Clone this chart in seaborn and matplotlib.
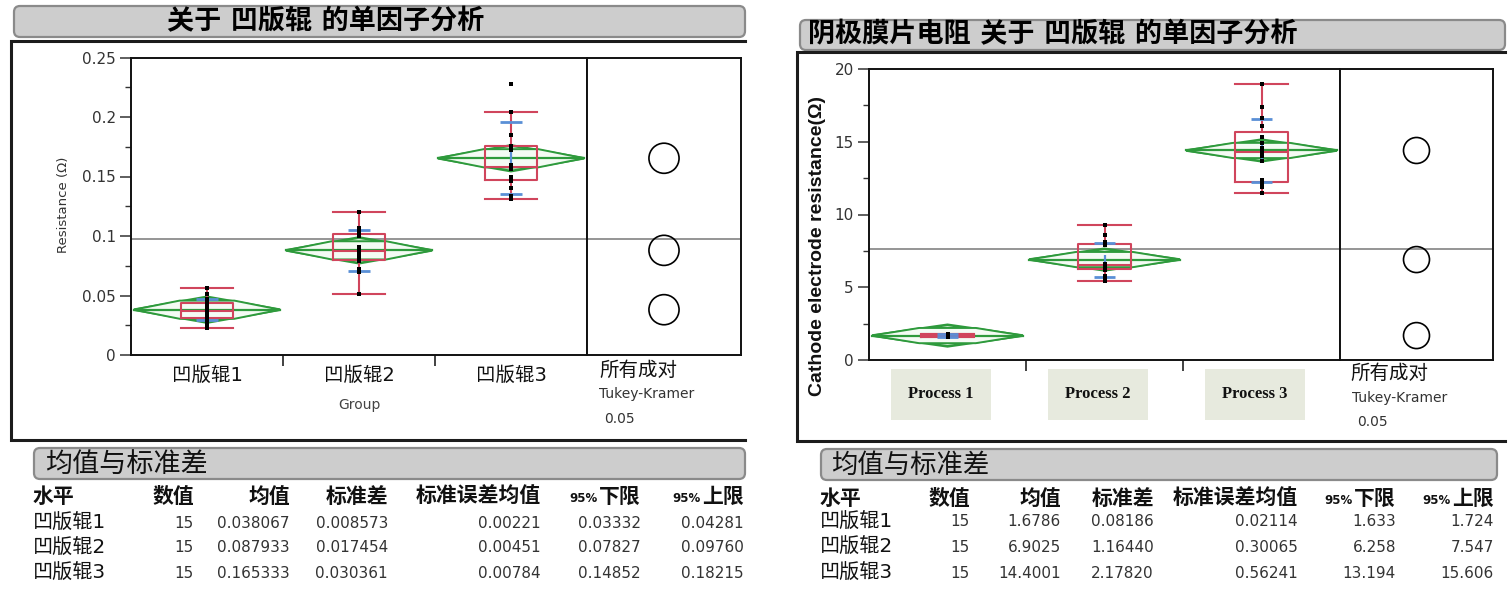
import numpy as np
import pandas as pd
import matplotlib
matplotlib.use("Agg")
import matplotlib.pyplot as plt
import matplotlib.transforms as mtransforms
from matplotlib.patches import FancyBboxPatch, Polygon
from matplotlib.ticker import FixedLocator, FuncFormatter
import seaborn as sns

# ---------------- data ----------------
groups = ["凹版辊1", "凹版辊2", "凹版辊3"]
process_labels = ["Process 1", "Process 2", "Process 3"]

# left panel: individual readings, Resistance (Ω)
left_g1 = [0.023, 0.026, 0.029, 0.031, 0.032, 0.034, 0.036, 0.037, 0.039, 0.041, 0.043, 0.045, 0.047, 0.051, 0.056]
left_g2 = [0.051, 0.070, 0.072, 0.079, 0.081, 0.083, 0.085, 0.087, 0.088, 0.091, 0.100, 0.103, 0.104, 0.107, 0.120]
left_g3 = [0.131, 0.134, 0.140, 0.146, 0.148, 0.150, 0.156, 0.158, 0.160, 0.172, 0.175, 0.176, 0.185, 0.204, 0.228]

# right panel: individual readings, cathode electrode resistance (Ω)
right_g1 = [1.55, 1.57, 1.59, 1.60, 1.61, 1.65, 1.67, 1.68, 1.69, 1.72, 1.75, 1.76, 1.77, 1.79, 1.82]
right_g2 = [5.45, 5.60, 5.80, 6.20, 6.30, 6.35, 6.40, 6.50, 6.55, 6.60, 7.90, 8.00, 8.10, 8.60, 9.25]
right_g3 = [11.45, 11.90, 12.00, 12.10, 12.35, 13.70, 14.00, 14.30, 14.60, 14.90, 15.30, 16.10, 16.60, 17.40, 18.95]

# summary tables
left_n = [15, 15, 15]
left_mean = [0.038067, 0.087933, 0.165333]
left_sd = [0.008573, 0.017454, 0.030361]
left_se = [0.00221, 0.00451, 0.00784]
left_lo95 = [0.03332, 0.07827, 0.14852]
left_hi95 = [0.04281, 0.09760, 0.18215]
left_diamond_half = [0.0108, 0.0108, 0.0108]

right_n = [15, 15, 15]
right_mean = [1.6786, 6.9025, 14.4001]
right_sd = [0.08186, 1.16440, 2.17820]
right_se = [0.02114, 0.30065, 0.56241]
right_lo95 = [1.633, 6.258, 13.194]
right_hi95 = [1.724, 7.547, 15.606]
right_diamond_half = [0.74, 0.74, 0.74]

table_headers = ["数值", "均值", "标准差", "标准误差均值", "下限", "上限"]

# ---------------- style ----------------
RED = "#d0455c"
GREEN = "#2e9a3c"
LIGHTGREEN = "#dcefdc"
BLUE = "#5a8fd6"
TXT = "#333333"

plt.rcParams["font.family"] = ["DejaVu Sans", "Noto Sans CJK SC"]

W, H = 1511, 601
fig = plt.figure(figsize=(W / 100, H / 100), dpi=100)
fig.patch.set_facecolor("white")

ov = fig.add_axes([0, 0, 1, 1])
ov.set_xlim(0, W)
ov.set_ylim(H, 0)
ov.axis("off")
ov.patch.set_alpha(0)


def axes_px(x0, y0, x1, y1):
    return fig.add_axes([x0 / W, 1 - y1 / H, (x1 - x0) / W, (y1 - y0) / H])


def title_bar(x0, y0, x1, y1):
    ov.add_patch(FancyBboxPatch((x0, y0), x1 - x0, y1 - y0,
                                boxstyle="round,pad=0,rounding_size=6",
                                facecolor="#cdcdcd", edgecolor="#8a8a8a", lw=1.6))


def frame(x0, y0, x1, y1):
    ov.plot([x1, x0, x0, x1], [y0, y0, y1, y1], color="#1c1c1c", lw=2.2,
            solid_joinstyle="miter")


def draw_panel(ax, axt, data_lists, means, sds, ses, halfs, ymax, major, minor, circ_s):
    df = pd.DataFrame({
        "grp": np.repeat(groups, [len(d) for d in data_lists]),
        "val": np.concatenate(data_lists),
    })
    # mean diamonds (95% CI) with overlap marks
    w = 0.48
    for i, (m, h) in enumerate(zip(means, halfs)):
        ax.add_patch(Polygon([[i - w, m], [i, m + h], [i + w, m], [i, m - h]], closed=True,
                             facecolor=LIGHTGREEN, edgecolor=GREEN, lw=1.9, zorder=1.5))
        k = h / np.sqrt(2)
        inner = [[i - w, m], [i - 0.18, m + k], [i + 0.18, m + k], [i + w, m],
                 [i + 0.18, m - k], [i - 0.18, m - k]]
        ax.add_patch(Polygon(inner, closed=True, facecolor="#f4fbf4", edgecolor=GREEN,
                             lw=1.4, zorder=1.6))
        ax.plot([i - w, i + w], [m, m], color=GREEN, lw=1.6, zorder=1.7)
    sns.boxplot(data=df, x="grp", y="val", order=groups, ax=ax, fill=False, color=RED,
                width=0.34, whis=1.5, showfliers=False, linewidth=1.5, capwidths=0.34)
    # std dev lines and mean error bars
    for i, (m, s, se) in enumerate(zip(means, sds, ses)):
        ax.hlines([m - s, m + s], i - 0.07, i + 0.07, color=BLUE, lw=2.0, zorder=3)
        ax.vlines(i, m - se, m + se, color=BLUE, lw=1.6, zorder=3)
    sns.stripplot(data=df, x="grp", y="val", order=groups, ax=ax, color="black",
                  size=3.0, jitter=False, marker="s", zorder=4)
    grand = float(np.mean(means))
    for a in (ax, axt):
        a.axhline(grand, color="#8c8c8c", lw=1.3, zorder=0.5)
        for sp in a.spines.values():
            sp.set_visible(True)
            sp.set_color("#111111")
            sp.set_linewidth(1.4)
        a.set_facecolor("white")
    ax.set_ylim(0, ymax)
    ax.set_xlim(-0.5, 2.5)
    ax.set_xlabel("")
    ax.set_ylabel("")
    ax.yaxis.set_major_locator(FixedLocator(major))
    ax.yaxis.set_minor_locator(FixedLocator(minor))
    ax.yaxis.set_major_formatter(FuncFormatter(lambda v, p: f"{v:g}"))
    ax.tick_params(axis="y", which="major", length=8, width=1.1, color="#333333",
                   labelsize=11, labelcolor=TXT, pad=3)
    ax.tick_params(axis="y", which="minor", length=4, width=1.0, color="#333333")
    ax.xaxis.set_major_locator(FixedLocator([0.5, 1.5]))
    ax.xaxis.set_major_formatter(FuncFormatter(lambda v, p: ""))
    ax.xaxis.set_minor_locator(FixedLocator([]))
    ax.tick_params(axis="x", which="major", length=8, width=1.3, color="#333333")
    axt.scatter([0.5] * len(means), means, s=circ_s, facecolors="none",
                edgecolors="black", linewidths=1.2, zorder=3)
    axt.set_xlim(0, 1)
    axt.set_ylim(0, ymax)
    axt.set_xticks([])
    axt.set_yticks([])


# ---------------- left panel ----------------
title_bar(14, 6, 745, 37)
frame(11, 41, 745, 440)
ov.text(326, 22, "关于 凹版辊 的单因子分析", fontsize=19.5, fontweight="bold",
        ha="center", va="center", color="black")

axL = axes_px(131, 57.5, 587, 355)
axLt = axes_px(587, 57.5, 741, 355)
draw_panel(axL, axLt, [left_g1, left_g2, left_g3], left_mean, left_sd, left_se,
           left_diamond_half, 0.25, [0, 0.05, 0.1, 0.15, 0.2, 0.25],
           [0.025, 0.075, 0.125, 0.175, 0.225], 470)
axL.xaxis.set_minor_locator(FixedLocator([0, 1, 2]))
axL.xaxis.set_minor_formatter(FuncFormatter(lambda v, p: groups[int(round(v))]))
axL.tick_params(axis="x", which="minor", length=0, labelsize=14, labelcolor="#111111", pad=8)

ov.text(63, 205, "Resistance (Ω)", rotation=90, fontsize=9.5, color=TXT, ha="center", va="center")
ov.text(359, 405, "Group", fontsize=10, color="#444444", ha="center", va="center")
ov.text(599, 370, "所有成对", fontsize=14, color="#111111", ha="left", va="center")
ov.text(599, 394, "Tukey-Kramer", fontsize=10, color=TXT, ha="left", va="center")
ov.text(604, 419, "0.05", fontsize=10, color=TXT, ha="left", va="center")

# ---------------- right panel ----------------
title_bar(800, 20, 1505, 50)
frame(797, 52, 1505, 441)
ov.text(808, 35, "阴极膜片电阻 关于 凹版辊 的单因子分析", fontsize=19.5, fontweight="bold",
        ha="left", va="center", color="black")

axR = axes_px(869, 69, 1340, 360)
axRt = axes_px(1340, 69, 1493, 360)
draw_panel(axR, axRt, [right_g1, right_g2, right_g3], right_mean, right_sd, right_se,
           right_diamond_half, 20, [0, 5, 10, 15, 20], [2.5, 7.5, 12.5, 17.5], 350)
trans = mtransforms.blended_transform_factory(axR.transData, axR.transAxes)
for i, lab in enumerate(process_labels):
    axR.text(i - 0.04, -0.118, lab, transform=trans, ha="center", va="center", fontsize=12,
             family="Liberation Serif", fontweight="bold", color="#111111", clip_on=False,
             bbox=dict(boxstyle="square,pad=1.05", facecolor="#e7eade", edgecolor="none"))

ov.text(818, 246, "Cathode electrode resistance(Ω)", rotation=90, fontsize=14,
        family="Liberation Sans", fontweight="bold", color="#111111", ha="center", va="center")
ov.text(1350, 373, "所有成对", fontsize=14, color="#111111", ha="left", va="center")
ov.text(1352, 398, "Tukey-Kramer", fontsize=10, color=TXT, ha="left", va="center")
ov.text(1357, 422, "0.05", fontsize=10, color=TXT, ha="left", va="center")


# ---------------- tables ----------------
def table(x_bar0, y_bar0, x_bar1, y_bar1, title_x, title_fs, x_left, col_right, y_head, y_rows,
          n, mean, sd, se, lo, hi, fmts):
    title_bar(x_bar0, y_bar0, x_bar1, y_bar1)
    ov.text(title_x, (y_bar0 + y_bar1) / 2 + 1, "均值与标准差", fontsize=title_fs,
            ha="left", va="center", color="#111111")
    ov.text(x_left, y_head, "水平", fontsize=15, fontweight="bold", ha="left", va="center",
            color="#111111")
    for j, (hdr, xr) in enumerate(zip(table_headers, col_right)):
        ov.text(xr, y_head, hdr, fontsize=15, fontweight="bold", ha="right", va="center",
                color="#111111")
        if j >= 4:
            ov.text(xr - 43, y_head + 1, "95%", fontsize=8.5, fontweight="bold", ha="right",
                    va="center", color="#111111")
    cols = [n, mean, sd, se, lo, hi]
    for r, y in enumerate(y_rows):
        ov.text(x_left, y, groups[r], fontsize=14.5, ha="left", va="center", color="#111111")
        for c, (vals, xr, fm) in enumerate(zip(cols, col_right, fmts)):
            ov.text(xr, y, fm.format(vals[r]), fontsize=11, ha="right", va="center", color=TXT)


table(34, 448, 745, 479, 45, 19.5, 33, [194, 290, 388, 541, 641, 744], 497, [523, 548, 573],
      left_n, left_mean, left_sd, left_se, left_lo95, left_hi95,
      ["{:d}", "{:.6f}", "{:.6f}", "{:.5f}", "{:.5f}", "{:.5f}"])
table(821, 449, 1497, 480, 831, 19, 820, [970, 1061, 1154, 1298, 1396, 1494], 499, [522, 547, 573],
      right_n, right_mean, right_sd, right_se, right_lo95, right_hi95,
      ["{:d}", "{:.4f}", "{:.5f}", "{:.5f}", "{:.3f}", "{:.3f}"])

fig.savefig("out.png", dpi=100, facecolor="white")
